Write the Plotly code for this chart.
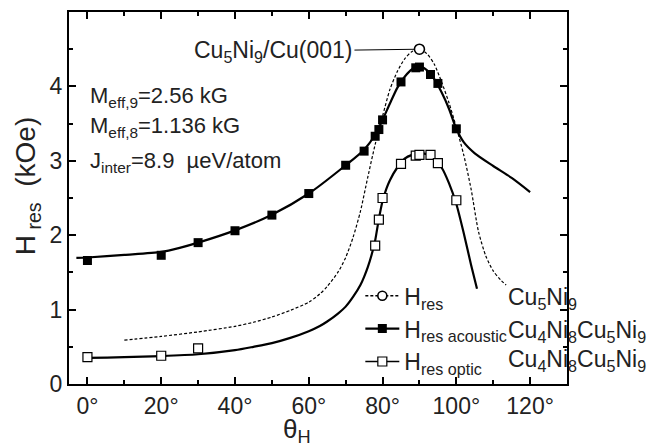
import plotly.graph_objects as go

# ---- data ----
# Cu5Ni9/Cu(001) measured point
cu_theta = [90]
cu_val = [4.50]

# Cu5Ni9 fitted curve (dotted)
dot_theta = [10, 20, 30, 40, 45, 50, 55, 60, 63, 65, 68, 70, 72, 74, 76, 78, 80, 82, 84, 86, 88, 90,
             92, 94, 96, 98, 100, 102, 104, 106, 108, 110, 112, 113.5]
dot_val = [0.59, 0.64, 0.70, 0.775, 0.83, 0.90, 0.99, 1.10, 1.21, 1.31, 1.51, 1.70, 1.97, 2.32, 2.78, 3.22,
           3.60, 3.96, 4.20, 4.37, 4.47, 4.50, 4.44, 4.30, 4.06, 3.78, 3.45, 3.08, 2.62, 2.05, 1.72, 1.52,
           1.40, 1.33]

# acoustic mode data (filled squares)
ac_theta = [0, 20, 30, 40, 50, 60, 70, 75, 78, 79, 80, 85, 89, 90, 93, 95, 100]
ac_val = [1.66, 1.73, 1.90, 2.06, 2.27, 2.56, 2.94, 3.13, 3.33, 3.42, 3.55, 4.06, 4.25, 4.26, 4.16, 4.04, 3.43]

# acoustic mode fit
acfit_theta = [-3, 0, 10, 20, 25, 30, 40, 50, 60, 70, 75, 78, 80, 82, 84, 86, 88, 90, 92, 94, 96, 98,
               100, 102, 105, 110, 115, 120]
acfit_val = [1.695, 1.70, 1.735, 1.775, 1.83, 1.90, 2.065, 2.275, 2.56, 2.94, 3.15, 3.35, 3.55, 3.77, 3.98,
             4.13, 4.23, 4.27, 4.22, 4.10, 3.92, 3.70, 3.43, 3.25, 3.10, 2.93, 2.77, 2.58]

# optic mode data (open squares)
op_theta = [0, 20, 30, 78, 79, 80, 85, 89, 90, 93, 95, 100]
op_val = [0.36, 0.38, 0.48, 1.86, 2.21, 2.50, 2.96, 3.07, 3.08, 3.08, 2.97, 2.47]

# optic mode fit
opfit_theta = [-1, 0, 10, 20, 30, 40, 45, 50, 55, 60, 63, 65, 68, 70, 72, 74, 75, 76, 77, 78, 79, 80, 81,
               82, 84, 86, 88, 90, 92, 94, 96, 98, 100, 102, 104, 105.6]
opfit_val = [0.35, 0.35, 0.36, 0.375, 0.40, 0.455, 0.50, 0.55, 0.62, 0.71, 0.78, 0.84, 0.95, 1.04, 1.17,
             1.33, 1.44, 1.57, 1.73, 1.93, 2.22, 2.46, 2.62, 2.74, 2.91, 3.03, 3.08, 3.10, 3.09, 3.03, 2.91,
             2.70, 2.42, 2.03, 1.60, 1.28]

x_ticks = [0, 20, 40, 60, 80, 100, 120]
x_tick_labels = ["0°", "20°", "40°", "60°", "80°", "100°", "120°"]
y_ticks = [0, 1, 2, 3, 4, 5]
y_tick_labels = ["0", "1", "2", "3", "4", "5"]

legend_names = ["H<sub>res</sub>", "H<sub>res acoustic</sub>", "H<sub>res optic</sub>"]
legend_samples = ["Cu<sub>5</sub>Ni<sub>9</sub>",
                  "Cu<sub>4</sub>Ni<sub>8</sub>Cu<sub>5</sub>Ni<sub>9</sub>",
                  "Cu<sub>4</sub>Ni<sub>8</sub>Cu<sub>5</sub>Ni<sub>9</sub>"]
param_lines = ["M<sub>eff,9</sub>=2.56 kG", "M<sub>eff,8</sub>=1.136 kG", "J<sub>inter</sub>=8.9  \u00b5eV/atom"]
param_y = [3.86, 3.46, 2.99]
sample_y = [1.15, 0.71, 0.32]

FONT = "Liberation Sans, Arial, Helvetica, sans-serif"

fig = go.Figure()

# curves
fig.add_trace(go.Scatter(x=dot_theta, y=dot_val, mode="lines", line_shape="spline", line_smoothing=0.7,
                         line=dict(color="black", width=1.2, dash="3px,2px"), showlegend=False))
fig.add_trace(go.Scatter(x=acfit_theta, y=acfit_val, mode="lines", line=dict(color="black", width=2.2),
                         line_shape="spline", line_smoothing=0.7, showlegend=False))
fig.add_trace(go.Scatter(x=opfit_theta, y=opfit_val, mode="lines", line=dict(color="black", width=2.2),
                         line_shape="spline", line_smoothing=0.7, showlegend=False))
# points
fig.add_trace(go.Scatter(x=ac_theta, y=ac_val, mode="markers",
                         marker=dict(symbol="square", size=9, color="black", line=dict(color="black", width=0)),
                         showlegend=False))
fig.add_trace(go.Scatter(x=op_theta, y=op_val, mode="markers",
                         marker=dict(symbol="square", size=9, color="white", line=dict(color="black", width=1.2)),
                         showlegend=False))
fig.add_trace(go.Scatter(x=cu_theta, y=cu_val, mode="markers",
                         marker=dict(symbol="circle", size=10, color="white", line=dict(color="black", width=1.6)),
                         showlegend=False))

# legend-only entries
fig.add_trace(go.Scatter(x=[None], y=[None], mode="lines+markers", name=legend_names[0],
                         line=dict(color="black", width=1.5, dash="3px,2px"),
                         marker=dict(symbol="circle", size=9, color="white", line=dict(color="black", width=1.6))))
fig.add_trace(go.Scatter(x=[None], y=[None], mode="lines+markers", name=legend_names[1],
                         line=dict(color="black", width=2.2),
                         marker=dict(symbol="square", size=9, color="black")))
fig.add_trace(go.Scatter(x=[None], y=[None], mode="lines+markers", name=legend_names[2],
                         line=dict(color="black", width=1.5),
                         marker=dict(symbol="square", size=9, color="white", line=dict(color="black", width=1.2))))

axis_common = dict(showline=True, linecolor="black", linewidth=2, mirror="ticks",
                   ticks="inside", ticklen=7, tickwidth=1.5, tickcolor="black",
                   showgrid=False, zeroline=False,
                   tickfont=dict(family=FONT, size=23, color="#222"))

fig.update_xaxes(range=[-5, 130], tickvals=x_ticks, ticktext=x_tick_labels,
                 minor=dict(dtick=10, tick0=0, ticklen=4, tickwidth=1.5, ticks="inside", tickcolor="black"),
                 **axis_common)
fig.update_yaxes(range=[0, 5], tickvals=y_ticks, ticktext=y_tick_labels,
                 minor=dict(dtick=0.5, tick0=0, ticklen=4, tickwidth=1.5, ticks="inside", tickcolor="black"),
                 **axis_common)

annotations = []
for txt, yv in zip(param_lines, param_y):
    annotations.append(dict(x=0.038, xref="paper", y=yv, yref="y", text=txt, showarrow=False,
                            xanchor="left", yanchor="middle", font=dict(family=FONT, size=22, color="#222")))
for txt, yv in zip(legend_samples, sample_y):
    annotations.append(dict(x=113.5, xref="x", y=yv, yref="y", text=txt, showarrow=False,
                            xanchor="left", yanchor="middle", font=dict(family=FONT, size=23, color="#222")))
annotations.append(dict(x=cu_theta[0], y=cu_val[0], xref="x", yref="y",
                        text="Cu<sub>5</sub>Ni<sub>9</sub>/Cu(001)", showarrow=True, arrowhead=0,
                        arrowwidth=1, arrowcolor="black", ax=-146, ay=2, axref="pixel", ayref="pixel",
                        standoff=5, font=dict(family=FONT, size=23, color="#222")))
annotations.append(dict(x=0.458, xref="paper", y=-0.126, yref="paper", text="\u03b8<sub>H</sub>",
                        showarrow=False, xanchor="center", yanchor="middle",
                        font=dict(family=FONT, size=26, color="#222")))
annotations.append(dict(x=-0.084, xref="paper", y=0.532, yref="paper",
                        text="H<sub> res</sub>\u00a0\u00a0(kOe)", textangle=-90,
                        showarrow=False, xanchor="center", yanchor="middle",
                        font=dict(family=FONT, size=28, color="#222")))

fig.update_layout(width=650, height=447, margin=dict(l=69, r=83, t=10, b=63),
                  paper_bgcolor="white", plot_bgcolor="white",
                  showlegend=True,
                  legend=dict(x=0.585, y=0.295, xanchor="left", yanchor="top", bgcolor="rgba(0,0,0,0)",
                              font=dict(family=FONT, size=23, color="#222"), tracegroupgap=0,
                              itemwidth=34),
                  annotations=annotations)

fig.write_html("out.html")
